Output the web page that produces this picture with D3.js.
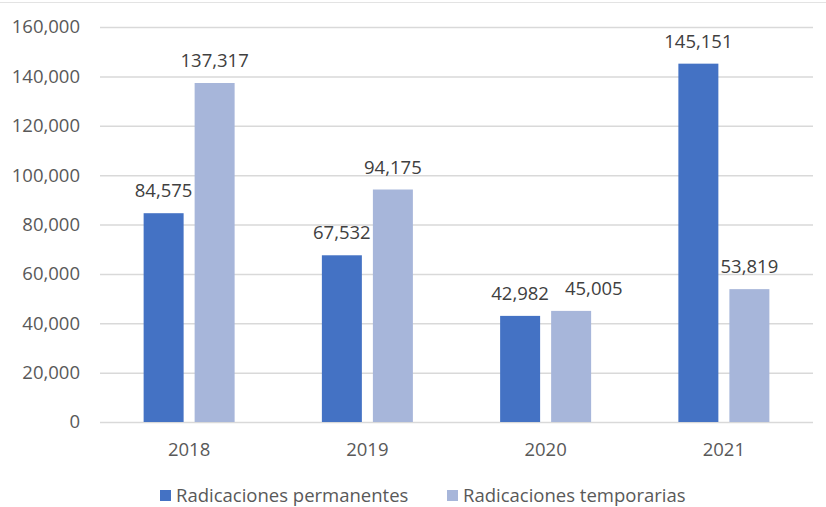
<!DOCTYPE html>
<html>
<head>
<meta charset="utf-8">
<script src="https://cdn.jsdelivr.net/npm/d3@7"></script>
<style>
  body { margin: 0; background: #fff; }
  svg text { font-family: "Open Sans", sans-serif; }
</style>
</head>
<body>
<svg width="826" height="507"></svg>
<script>
const width = 826;
const height = 507;
const margin = { top: 27, right: 13, bottom: 85, left: 100 };

// Datos
const years = ["2018", "2019", "2020", "2021"];
const series = ["Radicaciones permanentes", "Radicaciones temporarias"];
const permanentes = [84575, 67532, 42982, 145151];
const temporarias = [137317, 94175, 45005, 53819];
const yTicks = [0, 20000, 40000, 60000, 80000, 100000, 120000, 140000, 160000];
const colors = ["#4472C4", "#A7B6DA"];

const svg = d3.select("svg");

// borde superior del área del gráfico
svg.append("line")
  .attr("x1", 0).attr("x2", width)
  .attr("y1", 2.5).attr("y2", 2.5)
  .attr("stroke", "#e3e3e3");

const x0 = d3.scaleBand()
  .domain(years)
  .range([margin.left, width - margin.right]);

const x1 = d3.scaleBand()
  .domain(series)
  .range([x0.bandwidth() / 2 - 45.5, x0.bandwidth() / 2 + 45.5])
  .paddingInner(0.216);

const y = d3.scaleLinear()
  .domain([0, 160000])
  .range([height - margin.bottom, margin.top]);

const fmt = d3.format(",");

// Líneas de cuadrícula + etiquetas del eje Y
const yAxis = svg.append("g")
  .attr("transform", `translate(${margin.left}, 0)`)
  .call(d3.axisLeft(y).tickValues(yTicks).tickFormat(fmt)
    .tickSize(-(width - margin.left - margin.right)).tickPadding(20));
yAxis.select(".domain").remove();
yAxis.selectAll(".tick line").attr("stroke", "#d9d9d9").attr("stroke-width", 1.5);
yAxis.selectAll(".tick text")
  .attr("fill", "#595959")
  .attr("font-size", "18.5px")
  .attr("font-family", "Open Sans, sans-serif");

// Eje X
const xAxis = svg.append("g")
  .attr("transform", `translate(0, ${height - margin.bottom})`)
  .call(d3.axisBottom(x0).tickSize(0).tickPadding(21));
xAxis.select(".domain").remove();
xAxis.selectAll(".tick text")
  .attr("fill", "#595959")
  .attr("font-size", "18.5px")
  .attr("font-family", "Open Sans, sans-serif");

const data = years.map((yr, i) => ({
  year: yr,
  values: [
    { key: series[0], value: permanentes[i] },
    { key: series[1], value: temporarias[i] }
  ]
}));

const groups = svg.append("g")
  .selectAll("g")
  .data(data)
  .join("g")
  .attr("transform", d => `translate(${x0(d.year)}, 0)`);

groups.selectAll("rect")
  .data(d => d.values)
  .join("rect")
  .attr("x", d => x1(d.key))
  .attr("y", d => y(d.value))
  .attr("width", x1.bandwidth())
  .attr("height", d => y(0) - y(d.value))
  .attr("fill", (d, i) => colors[i]);

groups.each(function () {
  const labels = d3.select(this).selectAll("text.label")
    .data(d => d.values)
    .join("text")
    .attr("class", "label")
    .attr("x", d => x1(d.key) + x1.bandwidth() / 2)
    .attr("y", d => y(d.value) - 16)
    .attr("text-anchor", "middle")
    .attr("fill", "#404040")
    .attr("font-size", "18.5px")
    .text(d => fmt(d.value));

  // si las etiquetas se tocan, mover la segunda a la derecha
  const nodes = labels.nodes();
  const a = nodes[0].getBBox(), b = nodes[1].getBBox();
  const vOverlap = a.y < b.y + b.height && b.y < a.y + a.height;
  if (vOverlap && b.x < a.x + a.width + 16) {
    const shift = a.x + a.width + 16 - b.x;
    d3.select(nodes[1]).attr("x", +d3.select(nodes[1]).attr("x") + shift);
  }
});

// Leyenda
const legendX = [160, 447];
const legend = svg.append("g")
  .selectAll("g")
  .data(series)
  .join("g")
  .attr("transform", (d, i) => `translate(${legendX[i]}, 490)`);

legend.append("rect")
  .attr("width", 11)
  .attr("height", 11)
  .attr("fill", (d, i) => colors[i]);

legend.append("text")
  .attr("x", 16)
  .attr("y", 12)
  .attr("fill", "#595959")
  .attr("font-size", "18.5px")
  .text(d => d);
</script>
</body>
</html>
